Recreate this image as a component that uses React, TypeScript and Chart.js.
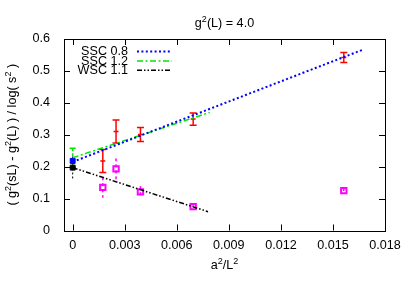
import React, { useEffect, useRef } from 'react';
import { Chart, registerables } from 'chart.js';

Chart.register(...registerables);

// text: [text, isSuperscript]
const TITLE: [string, boolean][] = [['g', false], ['2', true], ['(L) = 4.0', false]];
const X_LABEL: [string, boolean][] = [['a', false], ['2', true], ['/L', false], ['2', true]];
const Y_LABEL: [string, boolean][] = [
  ['( g', false], ['2', true], ['(sL) - g', false], ['2', true], ['(L) ) / log( s', false], ['2', true], [' )', false],
];
const X_TICKS = [0, 0.003, 0.006, 0.009, 0.012, 0.015, 0.018];
const Y_TICKS = [0, 0.1, 0.2, 0.3, 0.4, 0.5, 0.6];

// measured data (x = a^2/L^2)
const aL2 = [0.001736, 0.0025, 0.003906, 0.006944, 0.015625];
const sscValues = [0.218, 0.31, 0.301, 0.349, 0.542];
const sscErrors = [0.036, 0.036, 0.022, 0.019, 0.016];
const wscValues = [0.135, 0.193, 0.121, 0.075, 0.125];
const wscErrors = [0.032, 0.033, 0.018, 0.01, 0.008];

// fit lines
const fitSSC08X = [0, 0.0167];
const fitSSC08Y = [0.215, 0.566];
const fitSSC12X = [0, 0.0079];
const fitSSC12Y = [0.228, 0.37];
const fitWSC11X = [0, 0.0078];
const fitWSC11Y = [0.197, 0.059];

// continuum extrapolations at a^2/L^2 = 0
const extrapX = [0];
const extrapSSC08 = [0.218];
const extrapSSC08Err = [0.012];
const extrapSSC12 = [0.228];
const extrapSSC12Err = [0.03];
const extrapWSC11 = [0.197];
const extrapWSC11Err = [0.035];

const LEGEND_LABELS = ['SSC 0.8', 'SSC 1.2', 'WSC 1.1'];

const FONT = 'Liberation Sans, Arial, sans-serif';
const FS = 12.6;
const SUP_FS = 9;
const SUP_RISE = 5;
const BLUE = '#0000ff';
const GREEN = '#00e600';
const BLACK = '#000000';
const RED = '#ff0000';
const MAGENTA = '#ff00ff';
const DASH_BLUE = [2, 2.4];
const DASH_GREEN = [6, 2.5, 2, 2.5];
const DASH_BLACK = [5, 2, 1.5, 2, 1.5, 2];

const pts = (xs: number[], ys: number[]) => xs.map((x, i) => ({ x, y: ys[i] }));

function drawRich(ctx: CanvasRenderingContext2D, segs: [string, boolean][], cx: number, baseline: number) {
  let w = 0;
  const widths = segs.map(([t, sup]) => {
    ctx.font = `${sup ? SUP_FS : FS}px ${FONT}`;
    const m = ctx.measureText(t).width;
    w += m;
    return m;
  });
  let x = cx - w / 2;
  ctx.textAlign = 'left';
  ctx.textBaseline = 'alphabetic';
  segs.forEach(([t, sup], i) => {
    ctx.font = `${sup ? SUP_FS : FS}px ${FONT}`;
    ctx.fillText(t, x, baseline - (sup ? SUP_RISE : 0));
    x += widths[i];
  });
}

const errorBarPlugin = {
  id: 'errorBars',
  beforeDatasetsDraw(chart: any) {
    const ctx = chart.ctx;
    const xs = chart.scales.x;
    const ys = chart.scales.y;
    chart.data.datasets.forEach((ds: any) => {
      if (!ds.errors) return;
      ctx.save();
      ctx.strokeStyle = ds.errColor;
      ctx.lineWidth = ds.errWidth || 1.5;
      ctx.setLineDash(ds.errDash || []);
      ds.data.forEach((p: any, j: number) => {
        const e = ds.errors[j];
        const px = xs.getPixelForValue(p.x);
        const yt = ys.getPixelForValue(p.y + e);
        const yb = ys.getPixelForValue(p.y - e);
        ctx.beginPath();
        ctx.moveTo(px, yt);
        ctx.lineTo(px, yb);
        ctx.stroke();
        if (ds.errCap) {
          ctx.setLineDash([]);
          ctx.beginPath();
          ctx.moveTo(px - ds.errCap, yt);
          ctx.lineTo(px + ds.errCap, yt);
          ctx.moveTo(px - ds.errCap, yb);
          ctx.lineTo(px + ds.errCap, yb);
          ctx.stroke();
          ctx.setLineDash(ds.errDash || []);
        }
      });
      ctx.restore();
    });
  },
};

const framePlugin = {
  id: 'frame',
  afterDraw(chart: any) {
    const ctx = chart.ctx;
    const { left, right, top, bottom } = chart.chartArea;
    const xs = chart.scales.x;
    const ys = chart.scales.y;
    const tl = 6;
    ctx.save();
    ctx.strokeStyle = '#000';
    ctx.lineWidth = 1;
    ctx.setLineDash([]);
    ctx.strokeRect(Math.round(left) + 0.5, Math.round(top) + 0.5, Math.round(right - left), Math.round(bottom - top));
    ctx.beginPath();
    X_TICKS.forEach((v) => {
      const px = Math.round(xs.getPixelForValue(v)) + 0.5;
      ctx.moveTo(px, bottom);
      ctx.lineTo(px, bottom - tl);
      ctx.moveTo(px, top);
      ctx.lineTo(px, top + tl);
    });
    Y_TICKS.forEach((v) => {
      const py = Math.round(ys.getPixelForValue(v)) + 0.5;
      ctx.moveTo(left, py);
      ctx.lineTo(left + tl, py);
      ctx.moveTo(right, py);
      ctx.lineTo(right - tl, py);
    });
    ctx.stroke();

    // key (legend) inside the plot, gnuplot style
    const rows = [
      { color: BLUE, dash: DASH_BLUE, width: 2 },
      { color: GREEN, dash: DASH_GREEN, width: 1.5 },
      { color: BLACK, dash: DASH_BLACK, width: 1.5 },
    ];
    ctx.font = `${FS}px ${FONT}`;
    ctx.textAlign = 'right';
    ctx.textBaseline = 'middle';
    rows.forEach((r, i) => {
      const y = top + 12.5 + i * 9.4;
      ctx.fillStyle = '#000';
      ctx.fillText(LEGEND_LABELS[i], left + 64, y + 0.5);
      ctx.strokeStyle = r.color;
      ctx.lineWidth = r.width;
      ctx.setLineDash(r.dash);
      ctx.beginPath();
      ctx.moveTo(left + 73, y);
      ctx.lineTo(left + 108, y);
      ctx.stroke();
    });
    ctx.setLineDash([]);

    // title and axis labels with true superscripts
    const cx = (left + right) / 2;
    ctx.fillStyle = '#000';
    drawRich(ctx, TITLE, cx, 26.5);
    drawRich(ctx, X_LABEL, cx, 269);
    ctx.translate(16, (top + bottom) / 2);
    ctx.rotate(-Math.PI / 2);
    drawRich(ctx, Y_LABEL, 0, 0);
    ctx.restore();
  },
};

export default function App() {
  const ref = useRef<HTMLCanvasElement>(null);
  useEffect(() => {
    const font = { family: FONT, size: FS };
    const chart = new Chart(ref.current as HTMLCanvasElement, {
      type: 'scatter',
      data: {
        datasets: [
          {
            label: 'SSC 0.8',
            data: pts(fitSSC08X, fitSSC08Y),
            showLine: true,
            borderColor: BLUE,
            borderWidth: 2,
            borderDash: DASH_BLUE,
            pointRadius: 0,
          },
          {
            label: 'SSC 1.2',
            data: pts(fitSSC12X, fitSSC12Y),
            showLine: true,
            borderColor: GREEN,
            borderWidth: 1.5,
            borderDash: DASH_GREEN,
            pointRadius: 0,
          },
          {
            label: 'WSC 1.1',
            data: pts(fitWSC11X, fitWSC11Y),
            showLine: true,
            borderColor: BLACK,
            borderWidth: 1.5,
            borderDash: DASH_BLACK,
            pointRadius: 0,
          },
          {
            label: 'SSC data',
            data: pts(aL2, sscValues),
            errors: sscErrors,
            errColor: RED,
            errWidth: 1.5,
            errCap: 3.5,
            pointStyle: 'line',
            pointRadius: 2.5,
            borderColor: RED,
            borderWidth: 1.5,
          } as any,
          {
            label: 'WSC data',
            data: pts(aL2, wscValues),
            errors: wscErrors,
            errColor: MAGENTA,
            errWidth: 1.5,
            errDash: [3, 3],
            pointStyle: 'rect',
            pointRadius: 3.8,
            borderColor: MAGENTA,
            backgroundColor: 'rgba(0,0,0,0)',
            borderWidth: 2,
          } as any,
          {
            label: 'SSC 1.2 extrap',
            data: pts(extrapX, extrapSSC12),
            errors: extrapSSC12Err,
            errColor: GREEN,
            errWidth: 1.5,
            errDash: [3, 2],
            errCap: 3,
            pointRadius: 0,
          } as any,
          {
            label: 'SSC 0.8 extrap',
            data: pts(extrapX, extrapSSC08),
            errors: extrapSSC08Err,
            errColor: BLUE,
            errWidth: 1.5,
            errDash: [2, 2],
            pointStyle: 'rect',
            pointRadius: 3.5,
            borderColor: BLUE,
            backgroundColor: BLUE,
            borderWidth: 1,
          } as any,
          {
            label: 'WSC 1.1 extrap',
            data: pts(extrapX, extrapWSC11),
            errors: extrapWSC11Err,
            errColor: BLACK,
            errWidth: 1,
            errDash: [2, 2],
            pointStyle: 'rect',
            pointRadius: 3.5,
            borderColor: BLACK,
            backgroundColor: BLACK,
            borderWidth: 1,
          } as any,
        ],
      },
      options: {
        animation: false,
        responsive: false,
        devicePixelRatio: 1,
        layout: { padding: { left: 0, right: 24, top: 39, bottom: 0 } },
        plugins: {
          legend: { display: false },
          tooltip: { enabled: false },
          title: { display: false },
        },
        scales: {
          x: {
            type: 'linear',
            min: -0.0005,
            max: 0.018,
            afterBuildTicks: (s: any) => {
              s.ticks = X_TICKS.map((v) => ({ value: v }));
            },
            afterFit: (s: any) => {
              s.height = 55.5;
            },
            ticks: {
              callback: (v: any) => (v === 0 ? '0' : Number(v).toFixed(3)),
              font,
              color: '#000',
              padding: 7,
              maxRotation: 0,
              autoSkip: false,
            },
            grid: { display: false, drawTicks: false },
            border: { display: false },
            title: { display: false },
          },
          y: {
            type: 'linear',
            min: 0,
            max: 0.6,
            afterBuildTicks: (s: any) => {
              s.ticks = Y_TICKS.map((v) => ({ value: v }));
            },
            afterFit: (s: any) => {
              s.width = 64;
            },
            ticks: {
              callback: (v: any) => (v === 0 ? '0' : Number(v).toFixed(1)),
              font,
              color: '#000',
              padding: 14,
              autoSkip: false,
            },
            grid: { display: false, drawTicks: false },
            border: { display: false },
            title: { display: false },
          },
        },
      } as any,
      plugins: [errorBarPlugin, framePlugin],
    });
    return () => chart.destroy();
  }, []);
  return (
    <div style={{ position: 'fixed', left: 0, top: 0, width: 409, height: 286, background: '#fff' }}>
      <canvas ref={ref} width={409} height={286} style={{ display: 'block' }} />
    </div>
  );
}
